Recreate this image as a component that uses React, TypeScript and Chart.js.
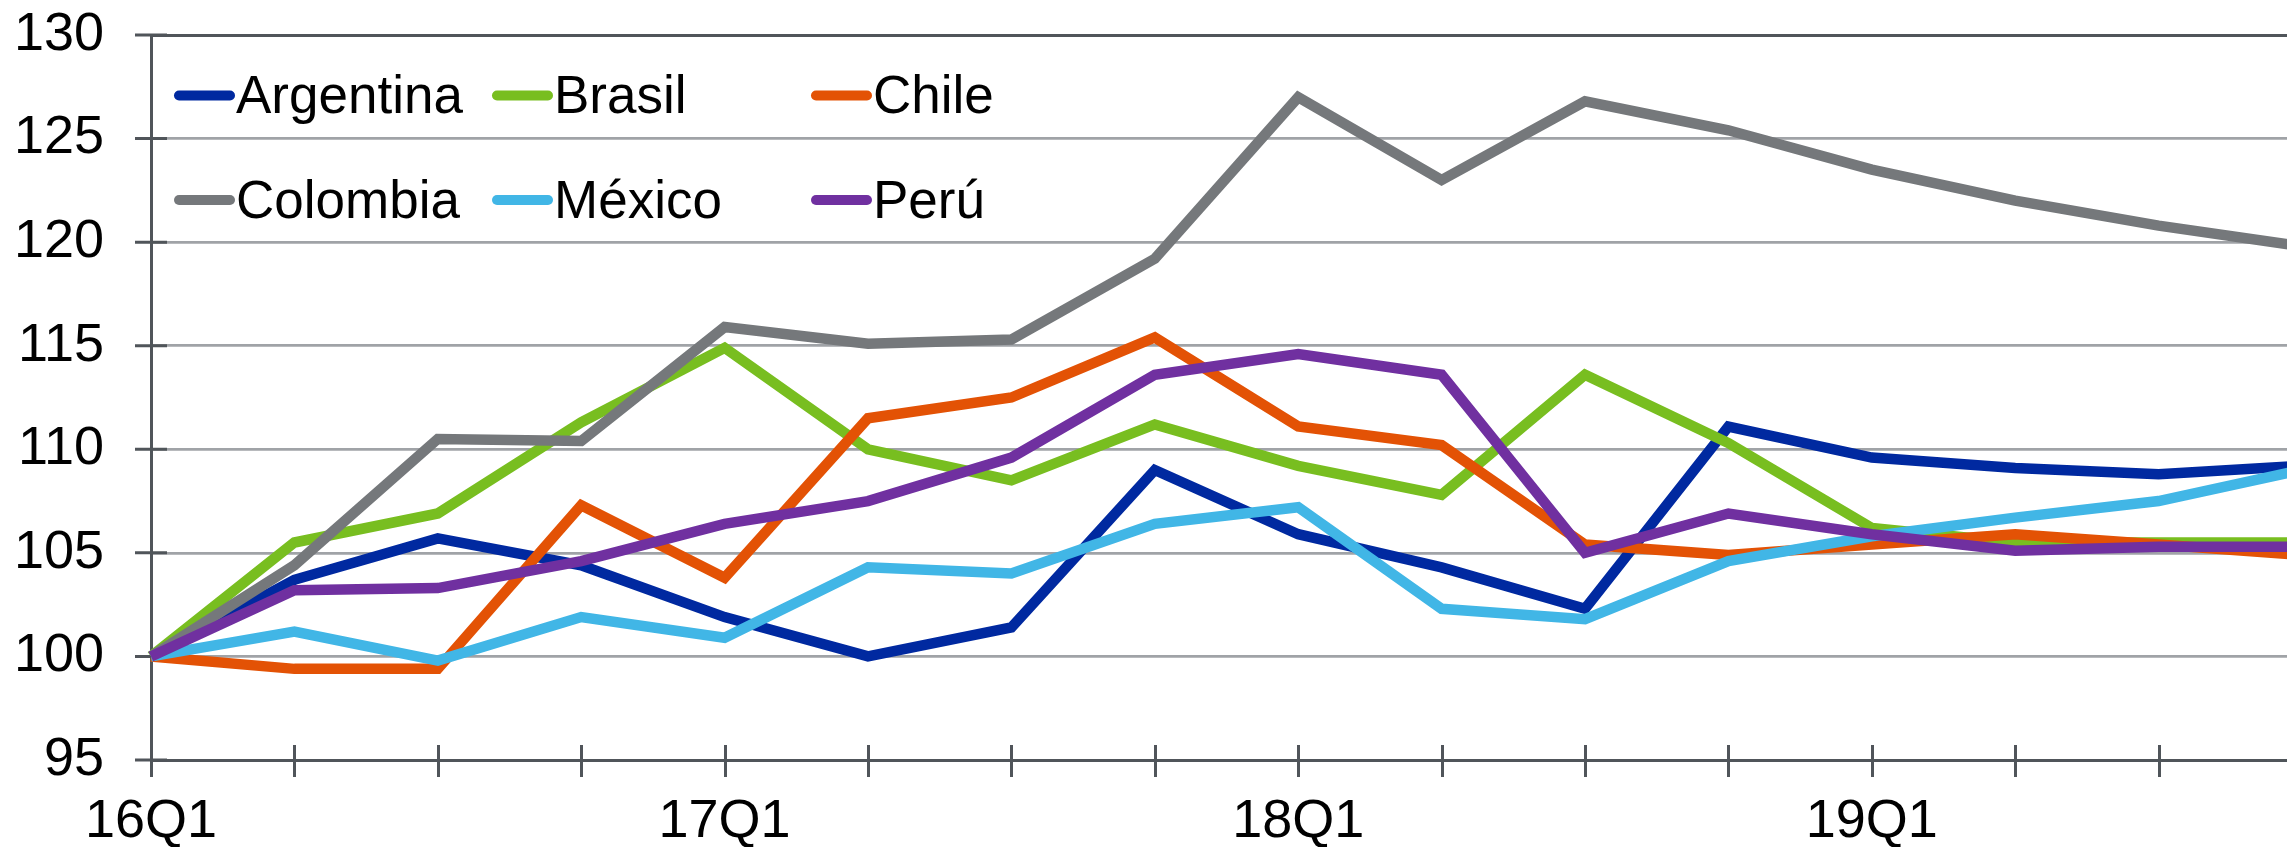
import React, { useEffect, useRef } from 'react';
import { Chart, registerables } from 'chart.js';

Chart.register(...registerables);

// ---- Data ----
const quarters = [
  '16Q1', '16Q2', '16Q3', '16Q4',
  '17Q1', '17Q2', '17Q3', '17Q4',
  '18Q1', '18Q2', '18Q3', '18Q4',
  '19Q1', '19Q2', '19Q3', '19Q4',
];
const shownQuarterLabels = ['16Q1', '17Q1', '18Q1', '19Q1'];
const yTickValues = [95, 100, 105, 110, 115, 120, 125, 130];

const argentina = [100, 103.7, 105.7, 104.4, 101.9, 100.0, 101.4, 109.0, 105.9, 104.3, 102.3, 111.1, 109.6, 109.1, 108.8, 109.2];
const brasil = [100, 105.5, 106.9, 111.3, 114.9, 110.0, 108.5, 111.2, 109.2, 107.8, 113.6, 110.3, 106.2, 105.5, 105.5, 105.5];
const chile = [100, 99.4, 99.4, 107.3, 103.8, 111.5, 112.5, 115.4, 111.1, 110.2, 105.4, 104.9, 105.4, 105.9, 105.4, 104.9];
const colombia = [100, 104.4, 110.5, 110.4, 115.9, 115.1, 115.3, 119.2, 127.0, 123.0, 126.8, 125.4, 123.5, 122.0, 120.8, 119.8];
const mexico = [100, 101.2, 99.8, 101.9, 100.9, 104.3, 104.0, 106.4, 107.2, 102.3, 101.8, 104.6, 105.8, 106.7, 107.5, 109.0];
const peru = [100, 103.2, 103.3, 104.6, 106.4, 107.5, 109.6, 113.6, 114.6, 113.6, 105.0, 106.9, 105.9, 105.1, 105.3, 105.3];

const seriesNames = ['Argentina', 'Brasil', 'Chile', 'Colombia', 'México', 'Perú'];
const seriesValues = [argentina, brasil, chile, colombia, mexico, peru];
const seriesColors = ['#0029a0', '#78be20', '#e35205', '#75787b', '#41b6e6', '#7030a0'];

// ---- Styles ----
const CANVAS_W = 2302;
const CANVAS_H = 847;
const FONT = "'Liberation Sans', Arial, Helvetica, sans-serif";
const AXIS_COLOR = '#50555a';
const GRID_COLOR = '#a0a3a7';

const crossTicksPlugin = {
  id: 'crossTicks',
  beforeDatasetsDraw(chart: any) {
    const { ctx, chartArea, scales } = chart;
    const x = scales.x;
    const y = scales.y;
    ctx.save();
    ctx.strokeStyle = AXIS_COLOR;
    ctx.lineWidth = 3;
    ctx.beginPath();
    for (let i = 0; i < quarters.length; i++) {
      const px = Math.round(x.getPixelForValue(i)) + 0.5;
      ctx.moveTo(px, chartArea.bottom - 15);
      ctx.lineTo(px, chartArea.bottom + 17);
    }
    yTickValues.forEach((v) => {
      const py = y.getPixelForValue(v);
      ctx.moveTo(chartArea.left - 16, py);
      ctx.lineTo(chartArea.left + 16, py);
    });
    ctx.stroke();
    ctx.restore();
  },
};

const gridLegendPlugin = {
  id: 'gridLegend',
  afterDraw(chart: any) {
    const { ctx } = chart;
    const colX = [174, 492, 811];
    const rowLineY = [95.5, 200];
    const rowBaseline = [113, 217.5];
    chart.data.datasets.forEach((ds: any, i: number) => {
      const c = i % 3;
      const r = Math.floor(i / 3);
      ctx.save();
      ctx.strokeStyle = ds.borderColor;
      ctx.lineWidth = 10;
      ctx.lineCap = 'round';
      ctx.beginPath();
      ctx.moveTo(colX[c] + 5, rowLineY[r]);
      ctx.lineTo(colX[c] + 56, rowLineY[r]);
      ctx.stroke();
      ctx.fillStyle = '#000000';
      ctx.font = `53px ${FONT}`;
      ctx.textAlign = 'left';
      ctx.textBaseline = 'alphabetic';
      ctx.fillText(ds.label, colX[c] + 62, rowBaseline[r]);
      ctx.restore();
    });
  },
};

export default function App() {
  const canvasRef = useRef<HTMLCanvasElement | null>(null);

  useEffect(() => {
    const canvas = canvasRef.current;
    if (!canvas) return;
    const chart = new Chart(canvas, {
      type: 'line',
      data: {
        labels: quarters,
        datasets: seriesNames.map((name, i) => ({
          label: name,
          data: seriesValues[i],
          borderColor: seriesColors[i],
          backgroundColor: seriesColors[i],
          borderWidth: 10.5,
          pointRadius: 0,
          pointHoverRadius: 0,
          tension: 0,
          fill: false,
          order: seriesNames.length - i,
        })),
      },
      options: {
        responsive: false,
        animation: false,
        devicePixelRatio: 1,
        layout: { padding: { top: 35, left: 0, right: 0, bottom: 0 } },
        plugins: {
          legend: { display: false },
          tooltip: { enabled: false },
        },
        scales: {
          x: {
            type: 'category',
            grid: { display: false, drawTicks: false },
            border: { display: true, color: AXIS_COLOR, width: 3 },
            ticks: {
              autoSkip: false,
              maxRotation: 0,
              minRotation: 0,
              padding: 30,
              color: '#000000',
              font: { family: FONT, size: 54 },
              callback: (_v: any, idx: number) =>
                shownQuarterLabels.includes(quarters[idx]) ? quarters[idx] : '',
            },
            afterFit: (scale: any) => {
              scale.height = 87;
              scale.paddingLeft = 0;
              scale.paddingRight = 0;
            },
          },
          y: {
            type: 'linear',
            min: 95,
            max: 130,
            grid: {
              drawTicks: false,
              color: (ctx: any) => (ctx.tick && ctx.tick.value === 130 ? AXIS_COLOR : GRID_COLOR),
              lineWidth: (ctx: any) => (ctx.tick && ctx.tick.value === 130 ? 3 : 2.7),
            },
            border: { display: true, color: AXIS_COLOR, width: 3 },
            ticks: {
              stepSize: 5,
              padding: 47,
              color: '#000000',
              font: { family: FONT, size: 54 },
            },
            afterFit: (scale: any) => {
              scale.width = 151;
              scale.paddingTop = 0;
              scale.paddingBottom = 0;
            },
          },
        },
      },
      plugins: [crossTicksPlugin, gridLegendPlugin],
    });
    return () => chart.destroy();
  }, []);

  return (
    <div
      style={{
        position: 'fixed',
        left: 0,
        top: 0,
        width: '2287px',
        height: '847px',
        overflow: 'hidden',
        background: '#ffffff',
      }}
    >
      <canvas
        ref={canvasRef}
        width={CANVAS_W}
        height={CANVAS_H}
        style={{ display: 'block', width: `${CANVAS_W}px`, height: `${CANVAS_H}px` }}
      />
    </div>
  );
}
